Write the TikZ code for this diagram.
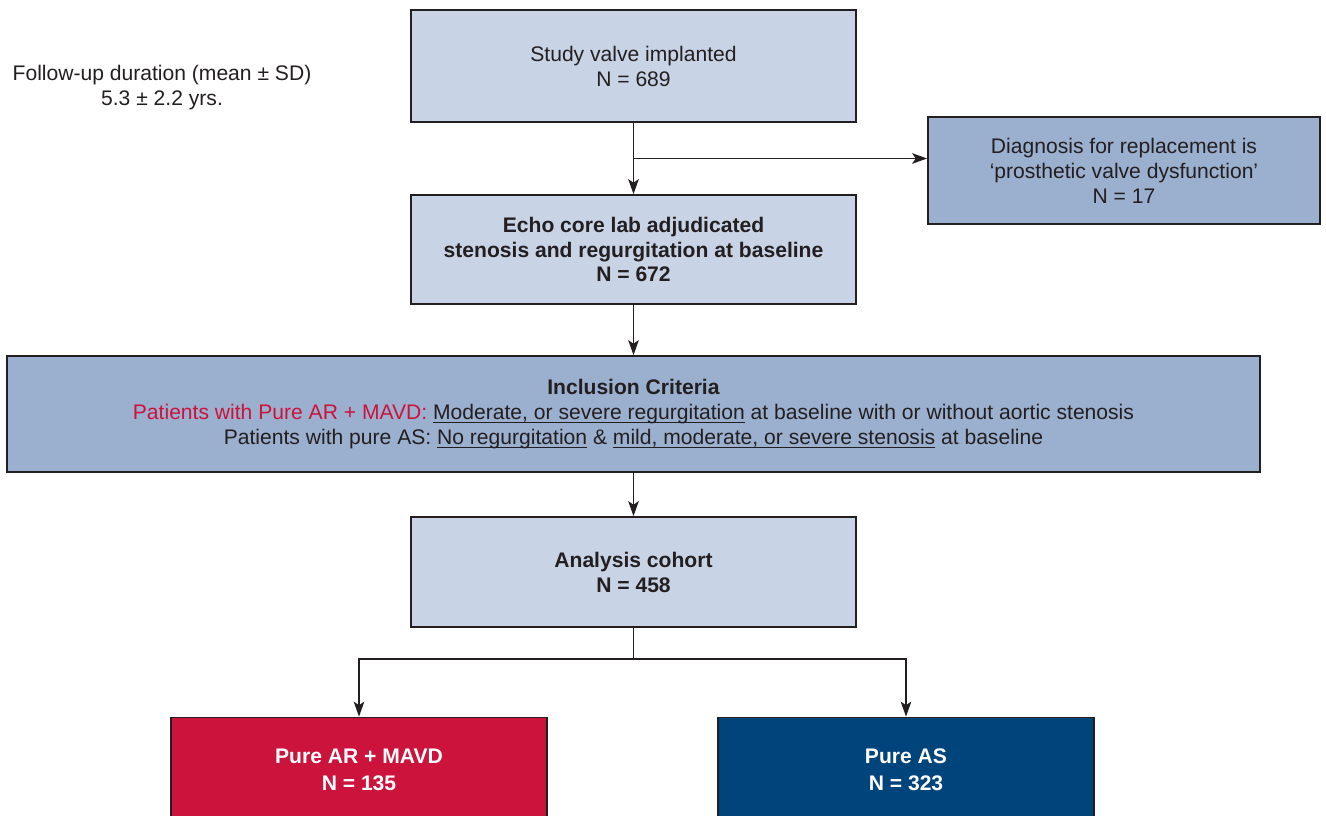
\documentclass[tikz,border=0pt]{standalone}
\usepackage{fontspec}
\setmainfont{Liberation Sans}
\usepackage{xcolor}
\definecolor{BoxLight}{HTML}{C9D3E6}
\definecolor{BoxMid}{HTML}{9BAFCF}
\definecolor{ARRed}{HTML}{CC133C}
\definecolor{ASNavy}{HTML}{00447C}
\definecolor{InkDark}{HTML}{231F20}
\newcommand{\critline}[1]{\setbox0\hbox{#1}\rlap{\rule[-2pt]{\wd0}{0.55pt}}\box0\relax}
\usepackage{tikz}
\usetikzlibrary{positioning,arrows.meta,calc}

\begin{document}
\begin{tikzpicture}[
        font=\fontsize{12pt}{14.2pt}\selectfont, text=InkDark,
        flowbox/.style={draw=InkDark, line width=1pt, align=center, inner sep=2pt},
        arr/.style={draw=InkDark, line width=1pt, -{Stealth[length=8.5pt,width=6pt,inset=2pt]}}
    ]
        \useasboundingbox (0,0) rectangle (26.52,-16.32);
        \clip (0,0) rectangle (26.52,-16.32);

        \node[align=center] (followup) at (3.24,-1.76) {Follow-up duration (mean ± SD)\\5.3 ± 2.2 yrs.};
        \node[flowbox, fill=BoxLight, minimum width=8.9cm, minimum height=2.24cm] (valve) at (12.67,-1.32) {Study valve implanted\\N = 689};
        \node[flowbox, fill=BoxLight, minimum width=8.9cm, minimum height=2.18cm, below of=valve, node distance=3.67cm] (echo) {\textbf{Echo core lab adjudicated}\\\textbf{stenosis and regurgitation at baseline}\\\textbf{N = 672}};
        \node[flowbox, fill=BoxMid, minimum width=7.84cm, minimum height=2.14cm] (diag) at (22.48,-3.41) {Diagnosis for replacement is\\`prosthetic valve dysfunction'\\N = 17};
        \node[flowbox, fill=BoxMid, minimum width=25.06cm, minimum height=2.32cm, below of=echo, node distance=3.29cm] (incl) {\textbf{Inclusion Criteria}\\\textcolor{ARRed}{Patients with Pure AR + MAVD:} \critline{Moderate, or severe regurgitation} at baseline with or without aortic stenosis\\Patients with pure AS: \critline{No regurgitation} \& \critline{mild, moderate, or severe stenosis} at baseline};
        \node[flowbox, fill=BoxLight, minimum width=8.9cm, minimum height=2.2cm, below of=incl, node distance=3.16cm] (cohort) {\textbf{Analysis cohort}\\\textbf{N = 458}};
        \node[flowbox, fill=ARRed, text=white, minimum width=7.52cm, minimum height=2.1cm] (pureAR) at (7.18,-15.4) {\textbf{Pure AR + MAVD}\\[1pt]\textbf{N = 135}};
        \node[flowbox, fill=ASNavy, text=white, minimum width=7.52cm, minimum height=2.1cm] (pureAS) at (18.12,-15.4) {\textbf{Pure AS}\\[1pt]\textbf{N = 323}};

        \coordinate (split) at ($(valve.south)!0.5!(echo.north)$);
        \coordinate[below=0.62cm of cohort.south] (fork);

        \draw[arr] (valve) -- (echo);
        \draw[arr] (split) -- (split -| diag.west);
        \draw[arr] (echo) -- (incl);
        \draw[arr] (incl) -- (cohort);
        \draw[line width=1pt, draw=InkDark] (cohort.south) -- (fork);
        \draw[arr] (fork) -| (pureAR.north);
        \draw[arr] (fork) -| (pureAS.north);
    \end{tikzpicture}
\end{document}
